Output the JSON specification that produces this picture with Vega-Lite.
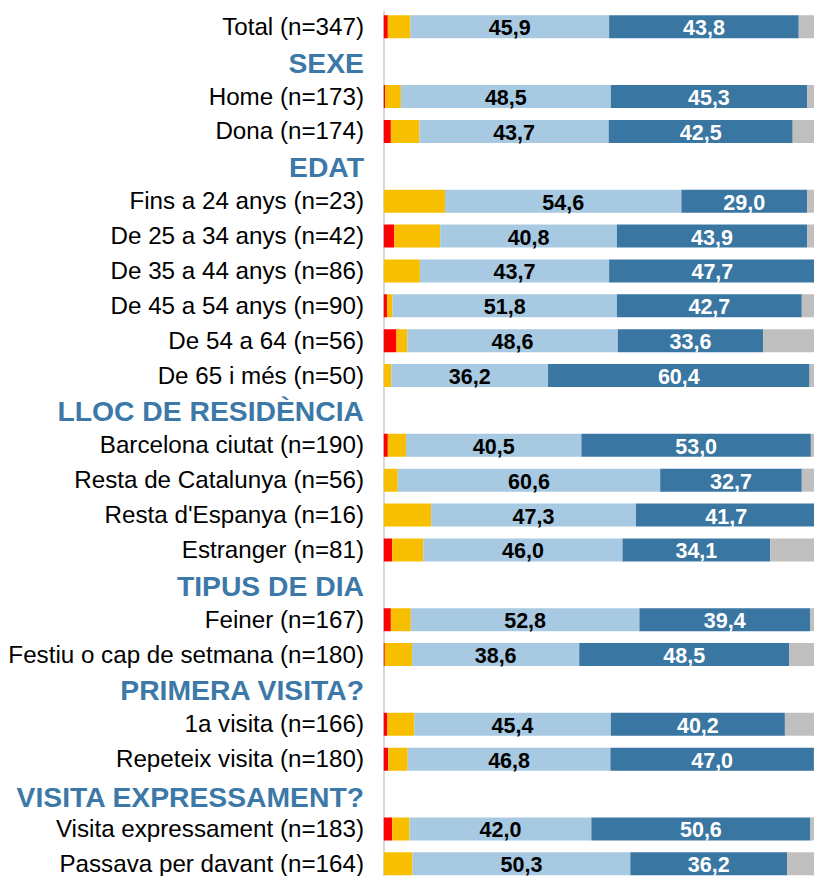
{
  "$schema": "https://vega.github.io/schema/vega-lite/v6.json",
  "autosize": {"type": "none"},
  "padding": {"left": 383.5, "top": 10, "right": 0, "bottom": 0},
  "width": 430.5,
  "height": 866,
  "background": "white",
  "config": {
    "view": {"stroke": null},
    "font": "Liberation Sans",
    "locale": {"number": {"decimal": ",", "thousands": ".", "grouping": [3], "currency": ["", " €"]}}
  },
  "data": {"values": [
    {"cat": "Total (n=347)", "seg": "Molt dolenta", "ord": 1, "v": 1.0},
    {"cat": "Total (n=347)", "seg": "Dolenta", "ord": 2, "v": 5.2},
    {"cat": "Total (n=347)", "seg": "Bona", "ord": 3, "v": 45.9},
    {"cat": "Total (n=347)", "seg": "Molt bona", "ord": 4, "v": 43.8},
    {"cat": "Total (n=347)", "seg": "NS/NC", "ord": 5, "v": 4.1},
    {"cat": "Home (n=173)", "seg": "Molt dolenta", "ord": 1, "v": 0.4},
    {"cat": "Home (n=173)", "seg": "Dolenta", "ord": 2, "v": 3.6},
    {"cat": "Home (n=173)", "seg": "Bona", "ord": 3, "v": 48.5},
    {"cat": "Home (n=173)", "seg": "Molt bona", "ord": 4, "v": 45.3},
    {"cat": "Home (n=173)", "seg": "NS/NC", "ord": 5, "v": 2.2},
    {"cat": "Dona (n=174)", "seg": "Molt dolenta", "ord": 1, "v": 1.7},
    {"cat": "Dona (n=174)", "seg": "Dolenta", "ord": 2, "v": 6.6},
    {"cat": "Dona (n=174)", "seg": "Bona", "ord": 3, "v": 43.7},
    {"cat": "Dona (n=174)", "seg": "Molt bona", "ord": 4, "v": 42.5},
    {"cat": "Dona (n=174)", "seg": "NS/NC", "ord": 5, "v": 5.5},
    {"cat": "Fins a 24 anys (n=23)", "seg": "Dolenta", "ord": 2, "v": 14.2},
    {"cat": "Fins a 24 anys (n=23)", "seg": "Bona", "ord": 3, "v": 54.6},
    {"cat": "Fins a 24 anys (n=23)", "seg": "Molt bona", "ord": 4, "v": 29.0},
    {"cat": "Fins a 24 anys (n=23)", "seg": "NS/NC", "ord": 5, "v": 2.2},
    {"cat": "De 25 a 34 anys (n=42)", "seg": "Molt dolenta", "ord": 1, "v": 2.5},
    {"cat": "De 25 a 34 anys (n=42)", "seg": "Dolenta", "ord": 2, "v": 10.6},
    {"cat": "De 25 a 34 anys (n=42)", "seg": "Bona", "ord": 3, "v": 40.8},
    {"cat": "De 25 a 34 anys (n=42)", "seg": "Molt bona", "ord": 4, "v": 43.9},
    {"cat": "De 25 a 34 anys (n=42)", "seg": "NS/NC", "ord": 5, "v": 2.2},
    {"cat": "De 35 a 44 anys (n=86)", "seg": "Dolenta", "ord": 2, "v": 8.4},
    {"cat": "De 35 a 44 anys (n=86)", "seg": "Bona", "ord": 3, "v": 43.7},
    {"cat": "De 35 a 44 anys (n=86)", "seg": "Molt bona", "ord": 4, "v": 47.7},
    {"cat": "De 35 a 44 anys (n=86)", "seg": "NS/NC", "ord": 5, "v": 0.2},
    {"cat": "De 45 a 54 anys (n=90)", "seg": "Molt dolenta", "ord": 1, "v": 0.8},
    {"cat": "De 45 a 54 anys (n=90)", "seg": "Dolenta", "ord": 2, "v": 1.3},
    {"cat": "De 45 a 54 anys (n=90)", "seg": "Bona", "ord": 3, "v": 51.8},
    {"cat": "De 45 a 54 anys (n=90)", "seg": "Molt bona", "ord": 4, "v": 42.7},
    {"cat": "De 45 a 54 anys (n=90)", "seg": "NS/NC", "ord": 5, "v": 3.4},
    {"cat": "De 54 a 64 (n=56)", "seg": "Molt dolenta", "ord": 1, "v": 3.0},
    {"cat": "De 54 a 64 (n=56)", "seg": "Dolenta", "ord": 2, "v": 2.5},
    {"cat": "De 54 a 64 (n=56)", "seg": "Bona", "ord": 3, "v": 48.6},
    {"cat": "De 54 a 64 (n=56)", "seg": "Molt bona", "ord": 4, "v": 33.6},
    {"cat": "De 54 a 64 (n=56)", "seg": "NS/NC", "ord": 5, "v": 12.3},
    {"cat": "De 65 i més (n=50)", "seg": "Dolenta", "ord": 2, "v": 1.8},
    {"cat": "De 65 i més (n=50)", "seg": "Bona", "ord": 3, "v": 36.2},
    {"cat": "De 65 i més (n=50)", "seg": "Molt bona", "ord": 4, "v": 60.4},
    {"cat": "De 65 i més (n=50)", "seg": "NS/NC", "ord": 5, "v": 1.6},
    {"cat": "Barcelona ciutat (n=190)", "seg": "Molt dolenta", "ord": 1, "v": 1.0},
    {"cat": "Barcelona ciutat (n=190)", "seg": "Dolenta", "ord": 2, "v": 4.2},
    {"cat": "Barcelona ciutat (n=190)", "seg": "Bona", "ord": 3, "v": 40.5},
    {"cat": "Barcelona ciutat (n=190)", "seg": "Molt bona", "ord": 4, "v": 53.0},
    {"cat": "Barcelona ciutat (n=190)", "seg": "NS/NC", "ord": 5, "v": 1.3},
    {"cat": "Resta de Catalunya (n=56)", "seg": "Dolenta", "ord": 2, "v": 3.3},
    {"cat": "Resta de Catalunya (n=56)", "seg": "Bona", "ord": 3, "v": 60.6},
    {"cat": "Resta de Catalunya (n=56)", "seg": "Molt bona", "ord": 4, "v": 32.7},
    {"cat": "Resta de Catalunya (n=56)", "seg": "NS/NC", "ord": 5, "v": 3.4},
    {"cat": "Resta d'Espanya (n=16)", "seg": "Dolenta", "ord": 2, "v": 11.0},
    {"cat": "Resta d'Espanya (n=16)", "seg": "Bona", "ord": 3, "v": 47.3},
    {"cat": "Resta d'Espanya (n=16)", "seg": "Molt bona", "ord": 4, "v": 41.7},
    {"cat": "Estranger (n=81)", "seg": "Molt dolenta", "ord": 1, "v": 2.0},
    {"cat": "Estranger (n=81)", "seg": "Dolenta", "ord": 2, "v": 7.2},
    {"cat": "Estranger (n=81)", "seg": "Bona", "ord": 3, "v": 46.0},
    {"cat": "Estranger (n=81)", "seg": "Molt bona", "ord": 4, "v": 34.1},
    {"cat": "Estranger (n=81)", "seg": "NS/NC", "ord": 5, "v": 10.7},
    {"cat": "Feiner (n=167)", "seg": "Molt dolenta", "ord": 1, "v": 1.7},
    {"cat": "Feiner (n=167)", "seg": "Dolenta", "ord": 2, "v": 4.6},
    {"cat": "Feiner (n=167)", "seg": "Bona", "ord": 3, "v": 52.8},
    {"cat": "Feiner (n=167)", "seg": "Molt bona", "ord": 4, "v": 39.4},
    {"cat": "Feiner (n=167)", "seg": "NS/NC", "ord": 5, "v": 1.5},
    {"cat": "Festiu o cap de setmana (n=180)", "seg": "Molt dolenta", "ord": 1, "v": 0.3},
    {"cat": "Festiu o cap de setmana (n=180)", "seg": "Dolenta", "ord": 2, "v": 6.3},
    {"cat": "Festiu o cap de setmana (n=180)", "seg": "Bona", "ord": 3, "v": 38.6},
    {"cat": "Festiu o cap de setmana (n=180)", "seg": "Molt bona", "ord": 4, "v": 48.5},
    {"cat": "Festiu o cap de setmana (n=180)", "seg": "NS/NC", "ord": 5, "v": 6.3},
    {"cat": "1a visita (n=166)", "seg": "Molt dolenta", "ord": 1, "v": 0.9},
    {"cat": "1a visita (n=166)", "seg": "Dolenta", "ord": 2, "v": 6.2},
    {"cat": "1a visita (n=166)", "seg": "Bona", "ord": 3, "v": 45.4},
    {"cat": "1a visita (n=166)", "seg": "Molt bona", "ord": 4, "v": 40.2},
    {"cat": "1a visita (n=166)", "seg": "NS/NC", "ord": 5, "v": 7.3},
    {"cat": "Repeteix visita (n=180)", "seg": "Molt dolenta", "ord": 1, "v": 1.1},
    {"cat": "Repeteix visita (n=180)", "seg": "Dolenta", "ord": 2, "v": 4.5},
    {"cat": "Repeteix visita (n=180)", "seg": "Bona", "ord": 3, "v": 46.8},
    {"cat": "Repeteix visita (n=180)", "seg": "Molt bona", "ord": 4, "v": 47.0},
    {"cat": "Repeteix visita (n=180)", "seg": "NS/NC", "ord": 5, "v": 0.6},
    {"cat": "Visita expressament (n=183)", "seg": "Molt dolenta", "ord": 1, "v": 2.0},
    {"cat": "Visita expressament (n=183)", "seg": "Dolenta", "ord": 2, "v": 4.0},
    {"cat": "Visita expressament (n=183)", "seg": "Bona", "ord": 3, "v": 42.0},
    {"cat": "Visita expressament (n=183)", "seg": "Molt bona", "ord": 4, "v": 50.6},
    {"cat": "Visita expressament (n=183)", "seg": "NS/NC", "ord": 5, "v": 1.4},
    {"cat": "Passava per davant (n=164)", "seg": "Dolenta", "ord": 2, "v": 6.7},
    {"cat": "Passava per davant (n=164)", "seg": "Bona", "ord": 3, "v": 50.3},
    {"cat": "Passava per davant (n=164)", "seg": "Molt bona", "ord": 4, "v": 36.2},
    {"cat": "Passava per davant (n=164)", "seg": "NS/NC", "ord": 5, "v": 6.8}
  ]},
  "encoding": {
    "y": {
      "field": "cat",
      "type": "nominal",
      "scale": {
        "domain": ["Total (n=347)", "SEXE", "Home (n=173)", "Dona (n=174)", "EDAT", "Fins a 24 anys (n=23)", "De 25 a 34 anys (n=42)", "De 35 a 44 anys (n=86)", "De 45 a 54 anys (n=90)", "De 54 a 64 (n=56)", "De 65 i més (n=50)", "LLOC DE RESIDÈNCIA", "Barcelona ciutat (n=190)", "Resta de Catalunya (n=56)", "Resta d'Espanya (n=16)", "Estranger (n=81)", "TIPUS DE DIA", "Feiner (n=167)", "Festiu o cap de setmana (n=180)", "PRIMERA VISITA?", "1a visita (n=166)", "Repeteix visita (n=180)", "VISITA EXPRESSAMENT?", "Visita expressament (n=183)", "Passava per davant (n=164)"],
        "paddingInner": 0.34,
        "paddingOuter": 0.086,
        "align": 0.88,
        "round": false
      },
      "axis": {
        "title": null,
        "ticks": false,
        "tickSize": 0,
        "grid": false,
        "domain": true,
        "domainColor": "#d9d9d9",
        "domainWidth": 2,
        "labelPadding": 20,
        "labelLimit": 500,
        "labelFont": "Liberation Sans",
        "labelBaseline": "middle",
        "labelFontSize": {"condition": {"test": "indexof(['SEXE','EDAT','LLOC DE RESIDÈNCIA','TIPUS DE DIA','PRIMERA VISITA?','VISITA EXPRESSAMENT?'], datum.value) >= 0", "value": 28.3}, "value": 24.2},
        "labelFontWeight": {"condition": {"test": "indexof(['SEXE','EDAT','LLOC DE RESIDÈNCIA','TIPUS DE DIA','PRIMERA VISITA?','VISITA EXPRESSAMENT?'], datum.value) >= 0", "value": "bold"}, "value": "normal"},
        "labelColor": {"condition": {"test": "indexof(['SEXE','EDAT','LLOC DE RESIDÈNCIA','TIPUS DE DIA','PRIMERA VISITA?','VISITA EXPRESSAMENT?'], datum.value) >= 0", "value": "#3c79a8"}, "value": "#000000"},
        "labelOffset": {"condition": [{"test": "datum.value == 'VISITA EXPRESSAMENT?'", "value": 4.5}, {"test": "indexof(['SEXE','EDAT','LLOC DE RESIDÈNCIA','TIPUS DE DIA','PRIMERA VISITA?'], datum.value) >= 0", "value": 3}], "value": 1}
      }
    },
    "x": {
      "field": "v",
      "type": "quantitative",
      "stack": "zero",
      "scale": {"domain": [0, 99.42], "nice": false, "zero": true},
      "axis": null
    },
    "order": {"field": "ord", "type": "quantitative"}
  },
  "layer": [
    {
      "mark": {"type": "bar", "clip": true},
      "encoding": {
        "color": {
          "field": "seg",
          "type": "nominal",
          "scale": {
            "domain": ["Molt dolenta", "Dolenta", "Bona", "Molt bona", "NS/NC"],
            "range": ["#ff0000", "#f8bf00", "#a7c9e1", "#3a76a2", "#bfbfbf"]
          },
          "legend": null
        }
      }
    },
    {
      "mark": {"type": "text", "font": "Liberation Sans", "fontSize": 21.5, "fontWeight": "bold", "baseline": "middle", "align": "center", "dy": 2.5},
      "encoding": {
        "x": {"field": "v", "type": "quantitative", "stack": "zero", "bandPosition": 0.5},
        "detail": {"field": "seg"},
        "text": {"condition": {"test": "datum.ord == 3 || datum.ord == 4", "field": "v", "type": "quantitative", "format": ".1f"}, "value": ""},
        "color": {"condition": {"test": "datum.ord == 4", "value": "#ffffff"}, "value": "#000000"}
      }
    }
  ]
}
